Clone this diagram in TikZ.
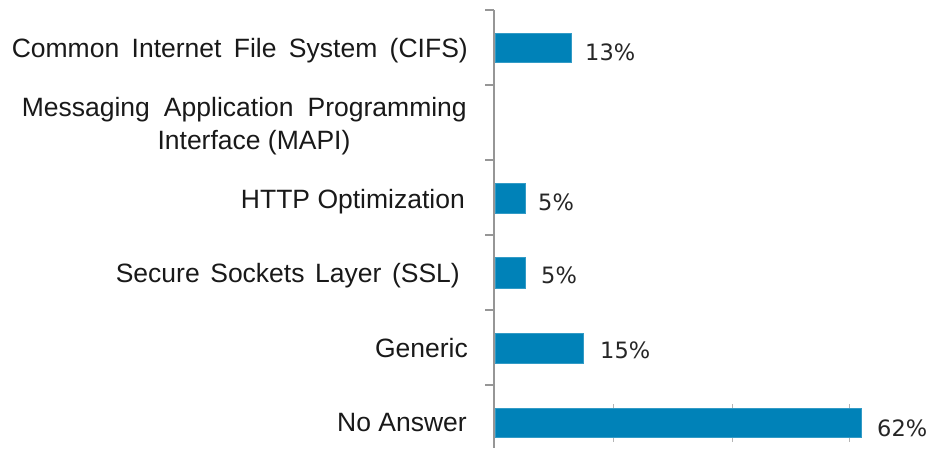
\documentclass[tikz,border=0pt]{standalone}
\usepackage{fontspec}
\setmainfont{Liberation Sans}
\newfontfamily\pctfont{DejaVu Sans}
\definecolor{barblue}{RGB}{0,130,184}
\definecolor{axisgray}{RGB}{150,150,150}
\definecolor{labeltext}{RGB}{25,25,25}
\begin{document}
\begin{tikzpicture}[x=1pt,y=-1pt,
  catlabel/.style={anchor=base east,inner sep=0pt,text=labeltext,font=\fontsize{26.5}{30}\selectfont},
  pctlabel/.style={anchor=base west,inner sep=0pt,text=black!85,font=\pctfont\fontsize{22.5}{26}\selectfont},
  bar/.style={fill=barblue,draw=barblue!80!white,line width=0.8pt},
  axisline/.style={draw=axisgray,line width=1.3pt},
  gridtick/.style={draw=axisgray!70,line width=0.8pt}]
\useasboundingbox (0,0) rectangle (928,448);
% faint gridlines behind the last bar
\foreach \gx in {613,732,849}{\draw[gridtick] (\gx,404) -- (\gx,442);}
% bars
\path[bar] (495,33) rectangle (571,62);
\path[bar] (495,183) rectangle (525,213);
\path[bar] (495,257) rectangle (525,288);
\path[bar] (495,333) rectangle (583,363);
\path[bar] (495,408) rectangle (861,437);
% axis
\coordinate (atop) at (494,10);
\coordinate (abot) at (494,448);
\draw[axisline] (atop) -- (abot);
\foreach \ty in {10,85,160,235,310,385}{\draw[axisline] (485,\ty) -- (494,\ty);}
% category labels
\node[catlabel] (l1) at (468,57) {\makebox[456pt][s]{Common Internet File System (CIFS)}};
\node[catlabel] (l2a) at (467,116) {\makebox[445pt][s]{Messaging Application Programming}};
\node[catlabel,anchor=base] (l2b) at (254,149) {Interface (MAPI)};
\node[catlabel] (l3) at (465,208) {HTTP Optimization};
\node[catlabel] (l4) at (460,282) {\makebox[344pt][s]{Secure Sockets Layer (SSL)}};
\node[catlabel] (l5) at (468,357) {Generic};
\node[catlabel] (l6) at (467,431) {No Answer};
% value labels
\node[pctlabel] (p1) at (585,60) {13\%};
\node[pctlabel] (p3) at (538,210) {5\%};
\node[pctlabel] (p4) at (541,283) {5\%};
\node[pctlabel] (p5) at (600,358) {15\%};
\node[pctlabel] (p6) at (877,436) {62\%};
\end{tikzpicture}
\end{document}
